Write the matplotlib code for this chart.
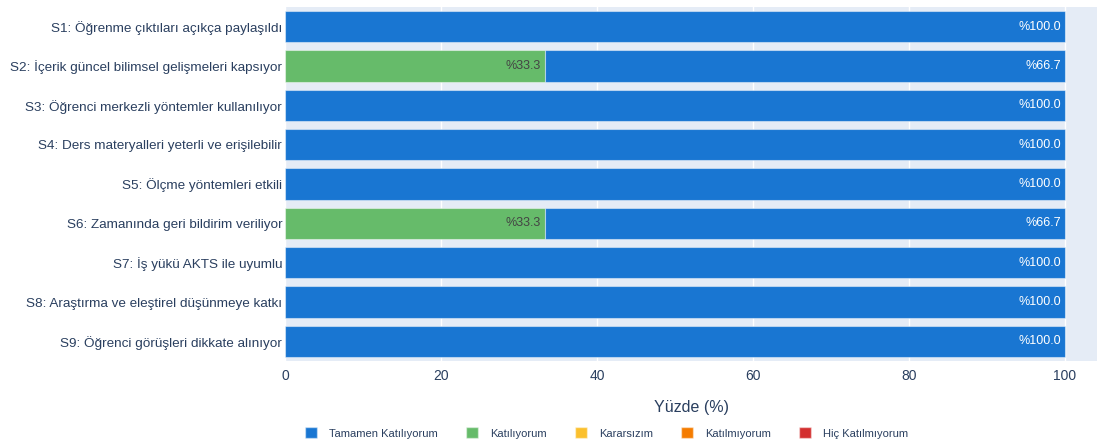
import matplotlib.pyplot as plt
from matplotlib.patches import Patch
import numpy as np

plt.rcParams["font.family"] = ["Liberation Sans", "DejaVu Sans"]

questions = [
    "S1: Öğrenme çıktıları açıkça paylaşıldı",
    "S2: İçerik güncel bilimsel gelişmeleri kapsıyor",
    "S3: Öğrenci merkezli yöntemler kullanılıyor",
    "S4: Ders materyalleri yeterli ve erişilebilir",
    "S5: Ölçme yöntemleri etkili",
    "S6: Zamanında geri bildirim veriliyor",
    "S7: İş yükü AKTS ile uyumlu",
    "S8: Araştırma ve eleştirel düşünmeye katkı",
    "S9: Öğrenci görüşleri dikkate alınıyor",
]
categories = ["Tamamen Katılıyorum", "Katılıyorum", "Kararsızım", "Katılmıyorum", "Hiç Katılmıyorum"]
colors = ["#1976D2", "#66BB6A", "#FBC02D", "#F57C00", "#D32F2F"]

tamamen = [100.0, 66.7, 100.0, 100.0, 100.0, 66.7, 100.0, 100.0, 100.0]
katiliyorum = [0.0, 33.3, 0.0, 0.0, 0.0, 33.3, 0.0, 0.0, 0.0]
kararsizim = [0.0] * 9
katilmiyorum = [0.0] * 9
hic = [0.0] * 9
values = [tamamen, katiliyorum, kararsizim, katilmiyorum, hic]
label_colors = ["white", "#444444", "#444444", "white", "white"]

fig = plt.figure(figsize=(10.97, 4.46), dpi=100)
ax = fig.add_axes([285 / 1097, 1 - 361 / 446, 812 / 1097, 354 / 446])
ax.set_facecolor("#E5ECF6")

y = np.arange(len(questions))
left = np.zeros(len(questions))
# stack from the last category so "Tamamen" ends up on the right
for i in reversed(range(len(categories))):
    vals = np.array(values[i])
    ax.barh(y, vals, left=left, height=0.8, color=colors[i],
            edgecolor=(1, 1, 1, 0.45), linewidth=0.8, zorder=3)
    for yy, l, v in zip(y, left, vals):
        if v > 0:
            ax.text(l + v - 0.5, yy, "%" + f"{v:.1f}", ha="right", va="center",
                    fontsize=9, color=label_colors[i], zorder=4)
    left += vals

ax.set_xlim(0, 104.1)
ax.set_ylim(len(questions) - 0.5, -0.5)
ax.set_yticks(y)
ax.set_yticklabels(questions, fontsize=9.7, color="#2a3f5f")
ax.set_xticks([0, 20, 40, 60, 80, 100])
ax.tick_params(axis="x", labelsize=10, labelcolor="#2a3f5f", length=0, pad=6)
ax.tick_params(axis="y", length=0, pad=2)
ax.grid(axis="x", color="white", linewidth=1, zorder=0)
for s in ax.spines.values():
    s.set_visible(False)
ax.set_xlabel("Yüzde (%)", fontsize=11.5, color="#2a3f5f", labelpad=12)

handles = [Patch(facecolor=c, edgecolor=(1, 1, 1, 0.45)) for c in colors]
fig.legend(handles, categories, loc="center", bbox_to_anchor=(0.553, 1 - 433 / 446),
           ncol=5, frameon=False, fontsize=8, handlelength=1.1, handleheight=1.1,
           columnspacing=2.5, handletextpad=1.1, labelcolor="#2a3f5f")

fig.savefig("out.png", dpi=100)
